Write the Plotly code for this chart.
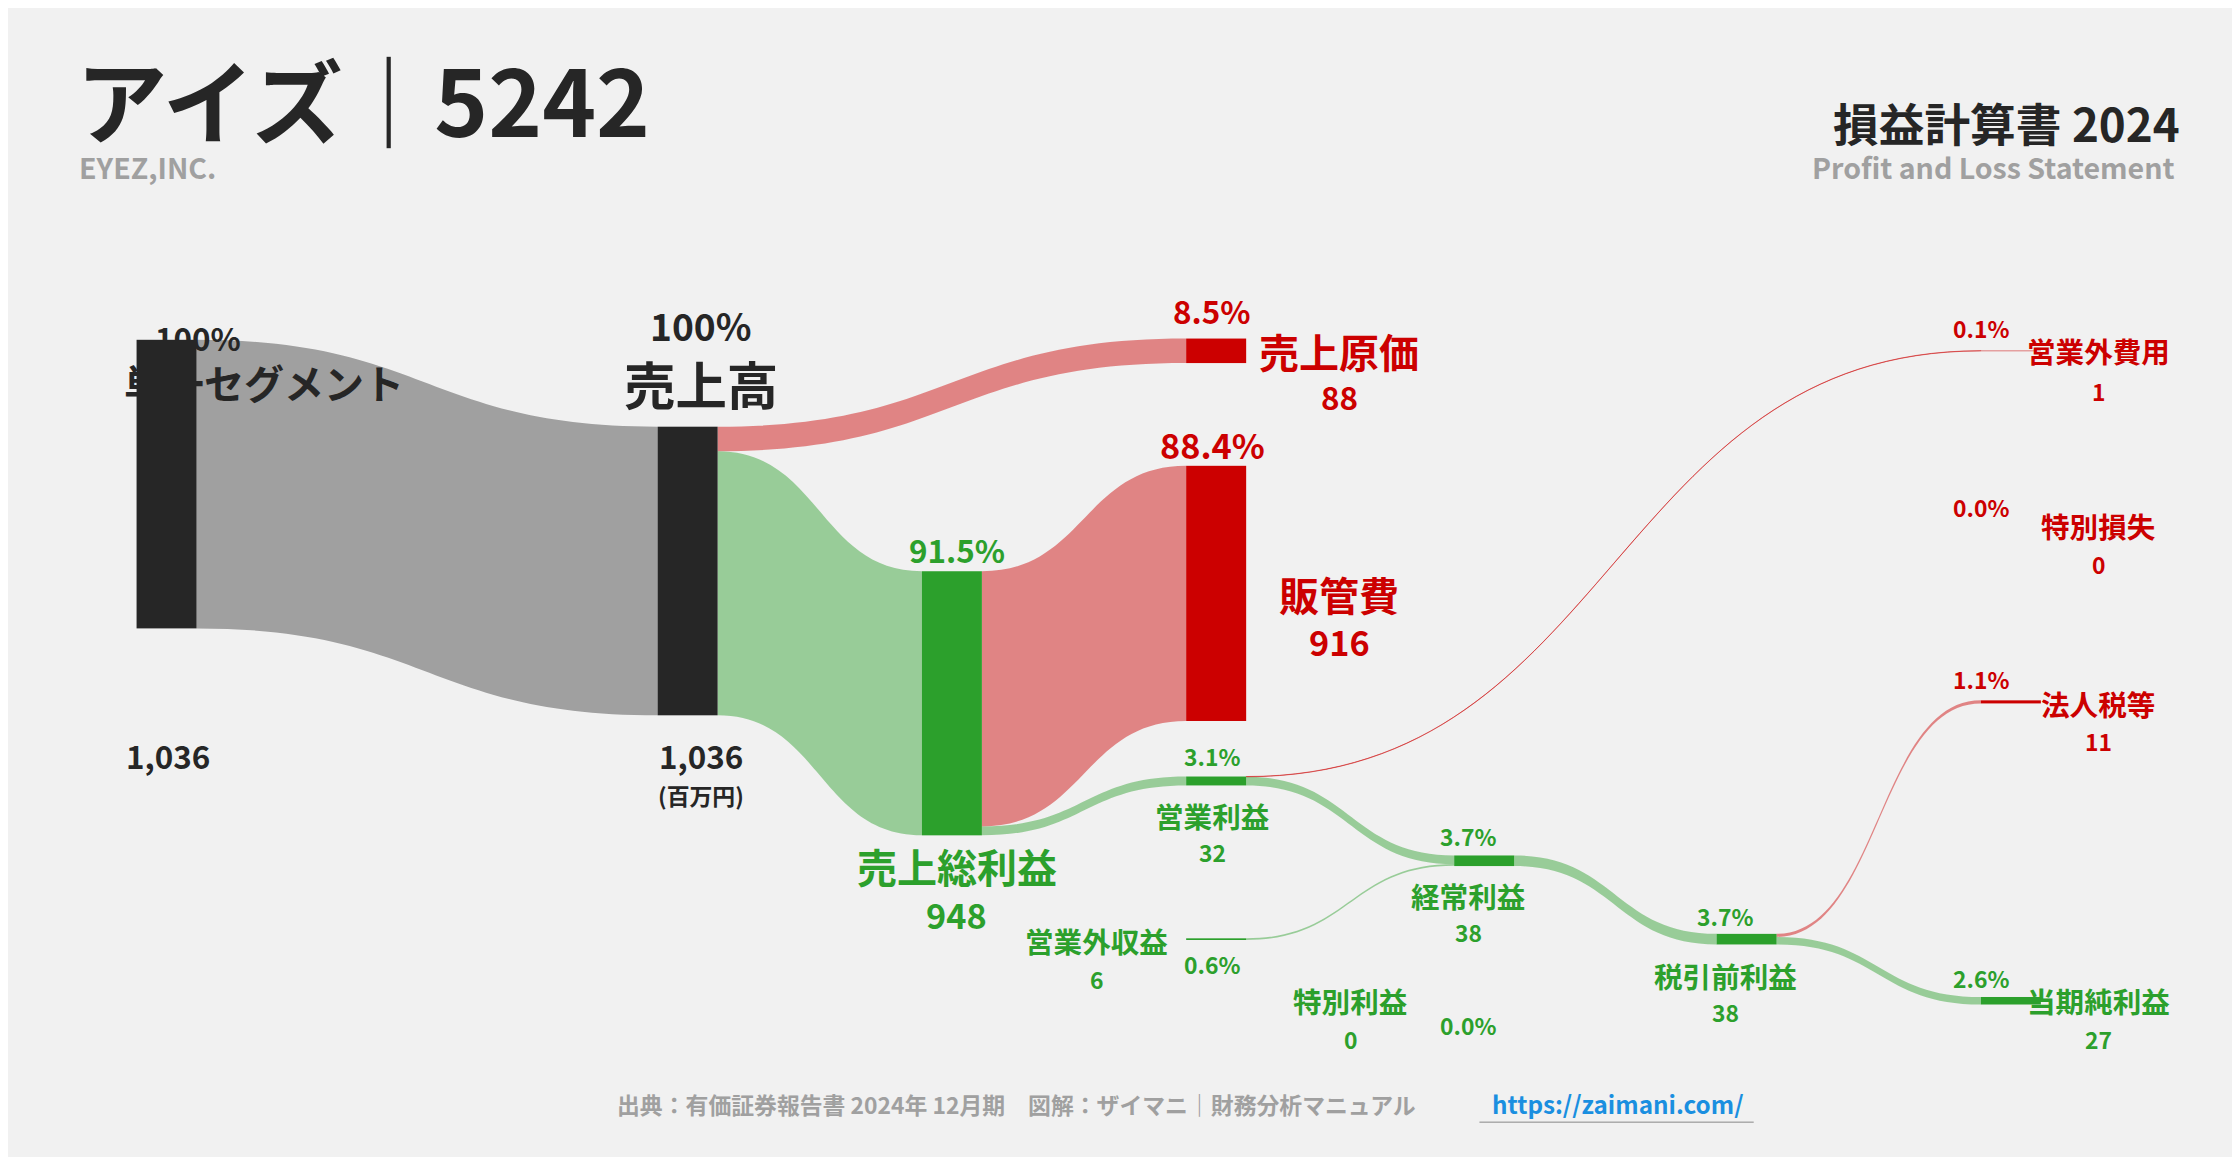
import plotly.graph_objects as go

W, H = 2240, 1157
S = W / 1568  # reference drawn at 1568 px wide

# --- data (百万円) ---
node_names = ["単一セグメント", "売上高", "売上原価", "売上総利益", "販管費", "営業利益",
              "営業外収益", "営業外費用", "経常利益", "特別利益", "特別損失",
              "税引前利益", "法人税等", "当期純利益"]
node_values = [1036, 1036, 88, 948, 916, 32, 6, 1, 38, 0, 0, 38, 11, 27]
link_src = [0, 1, 1, 3, 3, 5, 5, 6, 8, 11, 11]
link_tgt = [1, 2, 3, 4, 5, 8, 7, 8, 11, 12, 13]
link_val = [1036, 88, 948, 916, 32, 31, 1, 6, 38, 11, 27]
sales = 1036

DARK, RED, GREEN, GRAY = "#262626", "#cc0000", "#2ca02c", "#a0a0a0"
node_kind = ["d", "d", "r", "g", "r", "g", "g", "r", "g", "g", "r", "g", "r", "g"]
cmap = {"d": DARK, "r": RED, "g": GREEN}
lcmap = {"d": "#a0a0a0", "r": "rgba(204,0,0,0.45)", "g": "rgba(44,160,44,0.45)"}

# node positions (fixed arrangement)
nx = [0, 0.294, 0.576, 0.435, 0.576, 0.576, 0.576, 1, 0.719, 0.719, 1, 0.859, 1, 1]
ny = [0.335, 0.335, 0.0204, 0.524, 0.367, 0.635, 0.861, 0.0204, 0.749, 0.95, 0.3,
      0.861, 0.522, 0.949]

# only nodes that carry a flow go into the sankey (plotly drops unlinked ones)
used = sorted(set(link_src) | set(link_tgt))
idx = {n: i for i, n in enumerate(used)}

# invisible scale nodes so the 1036 block takes the right height
DUMMY = 1290
colors = [cmap[node_kind[n]] for n in used] + ["rgba(0,0,0,0)", "rgba(0,0,0,0)"]
xs = [nx[n] for n in used] + [0.0, 0.05]
ys = [ny[n] for n in used] + [0.99, 0.99]
d0 = len(used)
src = [idx[s_] for s_ in link_src] + [d0]
tgt = [idx[t_] for t_ in link_tgt] + [d0 + 1]
val = link_val + [DUMMY]
lcol = [lcmap["d"] if s_ == 0 else lcmap[node_kind[t_]]
        for s_, t_ in zip(link_src, link_tgt)] + ["rgba(0,0,0,0)"]

fig = go.Figure(go.Sankey(
    arrangement="fixed",
    domain=dict(x=[90 / 1568, 1402 / 1568], y=[1 - 720 / 810, 1 - 230 / 810]),
    node=dict(label=[""] * len(xs), x=xs, y=ys, color=colors, pad=10,
              thickness=60, line=dict(width=0), hoverinfo="skip"),
    link=dict(source=src, target=tgt, value=val, color=lcol, hoverinfo="skip"),
))

FONT = "Noto Sans CJK JP"
ann = []


def txt(x, y, t, size, color=DARK, anchor="center"):
    ann.append(dict(x=x / 1568, y=1 - y / 810, xref="paper", yref="paper", text=t,
                    showarrow=False, xanchor=anchor, yanchor="middle",
                    font=dict(family=FONT, size=size * S, color=color, weight="bold")))


def pct(v):
    return f"{v / sales * 100:.1f}%"


txt(46, 62, "アイズ｜5242", 64, anchor="left")
txt(48, 111, "EYEZ,INC.", 20, GRAY, "left")
txt(1522, 80, "損益計算書 2024", 32, anchor="right")
txt(1518, 111, "Profit and Loss Statement", 20, GRAY, "right")

txt(133, 231, "100%", 22)
txt(179, 262, node_names[0], 28)
txt(485, 222, "100%", 26)
txt(485, 262, node_names[1], 36)
txt(112, 523, f"{node_values[0]:,}", 22)
txt(485, 523, f"{node_values[1]:,}", 22)
txt(485, 551, "(百万円)", 16)

# (index, pct x, pct y, pct size, name x, name y, name size, value y, value size)
labels = [
    (2, 843, 212, 22, 932, 240, 28, 272, 22),
    (4, 843, 305, 24, 932, 410, 28, 443, 24),
    (3, 664, 379, 22, 664, 601, 28, 634, 24),
    (5, 843, 524, 16, 843, 565, 20, 591, 16),
    (6, 843, 669, 16, 762, 653, 20, 680, 16),
    (8, 1022, 580, 16, 1022, 621, 20, 647, 16),
    (9, 1022, 712, 16, 940, 695, 20, 722, 16),
    (11, 1202, 636, 16, 1202, 677, 20, 703, 16),
    (7, 1381, 224, 16, 1463, 240, 20, 268, 16),
    (10, 1381, 349, 16, 1463, 362, 20, 389, 16),
    (12, 1381, 470, 16, 1463, 487, 20, 513, 16),
    (13, 1381, 679, 16, 1463, 695, 20, 722, 16),
]
for i, px, py, ps, tx, ty, ts, vy, vs in labels:
    c = cmap[node_kind[i]]
    txt(px, py, pct(node_values[i]), ps, c)
    txt(tx, ty, node_names[i], ts, c)
    txt(tx, vy, f"{node_values[i]:,}", vs, c)

txt(706, 767, "出典：有価証券報告書 2024年 12月期　図解：ザイマニ｜財務分析マニュアル", 16, GRAY)
txt(1127, 767, "https://zaimani.com/", 17, "#1a8fe0")

fig.update_layout(
    width=W, height=H, margin=dict(l=0, r=0, t=0, b=0),
    paper_bgcolor="#f1f1f1", plot_bgcolor="#f1f1f1",
    annotations=ann,
    shapes=[dict(type="line", xref="paper", yref="paper",
                 x0=1030 / 1568, x1=1222 / 1568, y0=1 - 780 / 810, y1=1 - 780 / 810,
                 line=dict(color="#888888", width=1))],
)
fig.write_html("out.html")
